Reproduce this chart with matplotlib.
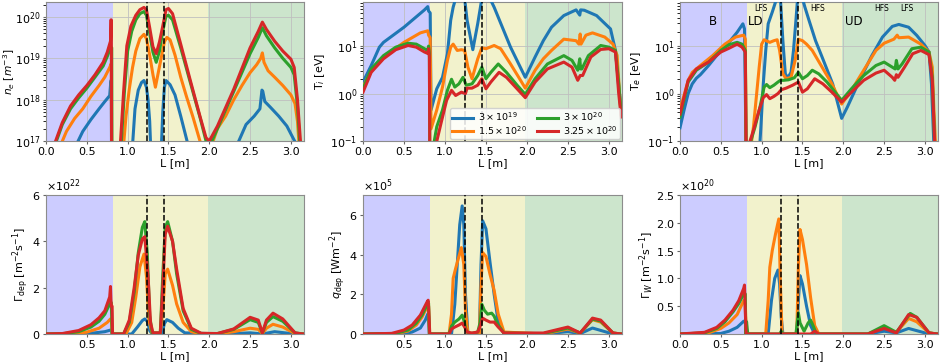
import numpy as np
import matplotlib
matplotlib.use("Agg")
import matplotlib.pyplot as plt

nan = np.nan
colors = ['#1f77b4', '#ff7f0e', '#2ca02c', '#d62728']
labels = [r'$3\times10^{19}$', r'$1.5\times10^{20}$', r'$3\times10^{20}$', r'$3.25\times10^{20}$']
regions = [(0.0, 0.82, 'b'), (0.82, 1.98, 'y'), (1.98, 3.16, 'g')]
xpoints_dashed = [1.24, 1.45]

# ---------------- n_e [m^-3] ----------------
ne_x_blue = [0.37, 0.45, 0.55, 0.65, 0.72, 0.78, 0.795, 0.80, 0.805, nan, 1.06, 1.09, 1.13, 1.17, 1.2, 1.23, 1.25, 1.27, 1.285, nan,
             1.41, 1.43, 1.45, 1.47, 1.52, 1.58, 1.65, 1.74, nan, 2.34, 2.45, 2.55, 2.62, 2.645, 2.655, 2.68, 2.75, 2.85, 2.95, 3.07]
ne_blue = [8e16, 1.7e17, 3.3e17, 6e17, 9e17, 1.25e18, 2.9e18, 2.9e18, 1e15, nan, 8e16, 6e17, 1.7e18, 2.6e18, 2.9e18, 2e18, 1e18, 3e17, 5e16, nan,
           5e16, 5e17, 2e18, 2.9e18, 2.3e18, 1.3e18, 4e17, 8e16, nan, 8e16, 2.5e17, 4e17, 6e17, 1.7e18, 1.6e18, 9e17, 6.5e17, 4e17, 2.3e17, 8e16]
ne_x_orange = [0.18, 0.25, 0.35, 0.45, 0.55, 0.65, 0.72, 0.78, 0.80, 0.805, nan, 0.95, 0.98, 1.02, 1.06, 1.1, 1.15, 1.2, 1.23, 1.27, 1.31, 1.34,
               1.37, 1.41, 1.45, 1.48, 1.52, 1.58, 1.65, 1.72, 1.8, 1.9, nan, 2.03, 2.1, 2.2, 2.3, 2.4, 2.5, 2.58, 2.63, 2.65, 2.67, 2.72,
               2.8, 2.9, 3.0, 3.05, 3.08, 3.1]
ne_orange = [8e16, 1.7e17, 3.5e17, 6e17, 1.2e18, 2.2e18, 3.5e18, 6e18, 7.5e18, 1e15, nan, 8e16, 4e17, 1.8e18, 6e18, 1.5e19, 3e19, 3.8e19, 3e19,
             1.2e19, 4e18, 2e18, 4e18, 1e19, 2.5e19, 3.2e19, 2.8e19, 1.2e19, 3.5e18, 1.2e18, 3.8e17, 8e16, nan, 8e16, 2e17, 4e17, 1e18,
             2.2e18, 4.5e18, 7e18, 1e19, 1.35e19, 8e18, 5e18, 3.5e18, 2.2e18, 1.3e18, 8e17, 3e17, 8e16]
ne_x_green = [0.11, 0.2, 0.3, 0.4, 0.5, 0.6, 0.7, 0.75, 0.79, 0.805, 0.81, nan, 0.92, 0.96, 1.0, 1.05, 1.1, 1.15, 1.2, 1.23, 1.27, 1.31,
              1.35, 1.39, 1.43, 1.47, 1.5, 1.55, 1.65, 1.77, 1.89, 1.96, nan, 2.01, 2.1, 2.3, 2.5, 2.6, 2.65, 2.7, 2.8, 2.9, 3.0, 3.04,
              3.08, 3.11]
ne_green = [8e16, 2.5e17, 6e17, 1.1e18, 1.9e18, 3.5e18, 6.5e18, 1.1e19, 1.8e19, 1.8e19, 1e15, nan, 8e16, 1.5e18, 1.5e19, 4.5e19, 8.5e19,
            1.2e20, 1.35e20, 1.1e20, 4e19, 1.4e19, 8e18, 1.5e19, 4.5e19, 1.05e20, 1.1e20, 8.5e19, 1.8e19, 2.5e18, 3.5e17, 1e17, nan,
            8e16, 2e17, 1.6e18, 1.3e19, 3.2e19, 5.5e19, 3.5e19, 1.8e19, 1e19, 6e18, 4e18, 7e17, 8e16]
ne_x_red = [0.1, 0.2, 0.3, 0.4, 0.5, 0.6, 0.7, 0.75, 0.79, 0.795, 0.80, 0.805, nan, 0.91, 0.95, 0.99, 1.04, 1.1, 1.15, 1.2, 1.23, 1.27,
            1.31, 1.35, 1.39, 1.43, 1.47, 1.5, 1.55, 1.65, 1.77, 1.89, 1.96, 2.0, 2.1, 2.3, 2.5, 2.6, 2.65, 2.7, 2.8, 2.9, 3.0, 3.04,
            3.08, 3.12]
ne_red = [8e16, 2.8e17, 7e17, 1.3e18, 2.2e18, 4e18, 8e18, 1.4e19, 2.6e19, 8.5e19, 8.5e19, 1e15, nan, 8e16, 1.5e18, 2e19, 6e19, 1.1e20,
          1.5e20, 1.7e20, 1.5e20, 5.5e19, 1.9e19, 1.3e19, 2.5e19, 6e19, 1.5e20, 1.6e20, 1.2e20, 2.2e19, 2.8e18, 3.7e17, 1.2e17, 1e17,
          2.3e17, 1.8e18, 1.8e19, 4.5e19, 7.5e19, 5e19, 2.6e19, 1.5e19, 9.5e18, 6e18, 1e18, 8e16]

# ---------------- T_i [eV] ----------------
ti_x_blue = [0.0, 0.1, 0.2, 0.25, 0.5, 0.75, 0.79, 0.8, 0.82, 0.83, 0.9, 0.97, 1.03, 1.07, 1.1, 1.13, 1.2, 1.24, 1.27, 1.34, 1.4, 1.45,
             1.55, 1.6, 1.7, 1.8, 1.9, 1.98, 2.1, 2.2, 2.3, 2.45, 2.6, 2.645, 2.655, 2.7, 2.85, 2.95, 3.02, 3.08, 3.12, 3.15]
ti_blue = [1.75, 3.9, 9.5, 12, 25, 58, 68, 55, 50, 0.45, 1.26, 2.2, 6.9, 35, 66, 100, 100, 100, 35, 8.4, 30, 100, 100, 66, 25, 9.5, 4.2,
           2.2, 5.9, 13, 25, 44, 58, 45, 58, 57, 44, 30, 23, 8.1, 1.4, 0.45]
ti_x_orange = [0.0, 0.1, 0.25, 0.5, 0.7, 0.79, 0.8, 0.82, 0.83, 0.9, 0.97, 1.03, 1.07, 1.1, 1.15, 1.2, 1.24, 1.28, 1.33, 1.4, 1.45, 1.5,
               1.6, 1.68, 1.8, 1.9, 1.98, 2.1, 2.2, 2.3, 2.45, 2.6, 2.635, 2.65, 2.66, 2.72, 2.8, 2.95, 3.05, 3.1, 3.13, 3.15]
ti_orange = [1.37, 3.1, 5.9, 12, 19, 21, 17, 15, 0.18, 0.45, 1.37, 5, 9.5, 11, 8.1, 8.4, 8.1, 3.6, 2.05, 5.4, 9.2, 8.8, 10.3, 8.8, 4.2,
             2.2, 1.3, 3.1, 5.4, 8.1, 14, 13, 11, 18, 11, 17, 19, 15.5, 11, 6.4, 1.0, 0.35]
ti_x_green = [0.0, 0.1, 0.25, 0.4, 0.55, 0.65, 0.75, 0.79, 0.8, 0.81, 0.815, nan, 0.86, 0.9, 0.97, 1.03, 1.08, 1.12, 1.17, 1.22, 1.26,
              1.33, 1.4, 1.45, 1.5, 1.56, 1.65, 1.75, 1.88, 1.98, 2.1, 2.25, 2.45, 2.55, 2.62, 2.645, 2.655, 2.67, 2.75, 2.9, 3.0, 3.08,
              3.12, 3.15]
ti_green = [1.26, 3.3, 6.3, 9.5, 11.5, 11, 8.8, 8.1, 10, 7, 0.05, nan, 0.08, 0.2, 0.45, 1.17, 2.0, 1.37, 1.6, 2.2, 1.5, 1.6, 2.4, 3.6,
            2.05, 2.8, 4.2, 2.8, 1.5, 0.96, 2.05, 4.2, 6.3, 5.0, 3.1, 5.4, 3.3, 3.3, 6.3, 10.3, 9.5, 8.1, 1.6, 0.37]
ti_x_red = [0.0, 0.1, 0.25, 0.4, 0.55, 0.65, 0.75, 0.79, 0.8, 0.81, 0.815, nan, 0.88, 0.95, 1.02, 1.08, 1.13, 1.2, 1.25, 1.27, 1.33,
            1.4, 1.45, 1.5, 1.56, 1.66, 1.75, 1.88, 1.98, 2.1, 2.25, 2.45, 2.55, 2.62, 2.65, 2.68, 2.78, 2.9, 3.0, 3.08, 3.12, 3.15]
ti_red = [1.07, 2.8, 5.4, 8.4, 10.3, 9.5, 7.5, 7.0, 8.8, 5.9, 0.05, nan, 0.07, 0.23, 0.72, 1.17, 0.91, 1.07, 1.0, 1.3, 1.3, 1.5, 2.05,
          1.26, 1.75, 2.8, 2.2, 1.26, 0.82, 1.75, 3.3, 4.6, 3.6, 1.9, 2.4, 2.4, 5.9, 8.5, 8.8, 7.5, 1.0, 0.32]

# ---------------- T_e [eV] ----------------
te_x_blue = [0.0, 0.05, 0.1, 0.15, 0.2, 0.25, 0.35, 0.5, 0.6, 0.7, 0.77, 0.79, 0.81, nan, 0.97, 0.99, 1.02, 1.05, 1.08, 1.13, 1.17,
             1.2, 1.23, 1.26, 1.29, 1.32, 1.36, 1.39, 1.42, 1.44, 1.5, 1.53, 1.58, 1.66, 1.74, 1.87, 1.98, 2.05, 2.2, 2.35, 2.48, 2.6,
             2.68, 2.8, 2.9, 3.0, 3.05, 3.08, 3.11]
te_blue = [0.19, 0.45, 1.0, 1.6, 2.1, 2.5, 3.9, 8.1, 12, 19.6, 29.5, 23, 0.05, nan, 0.05, 0.19, 1.6, 8, 29.5, 52, 85, 100, 100, 13, 2.6,
           2.15, 2.8, 8.1, 35, 100, 100, 66, 35, 13, 5.9, 1.6, 0.3, 0.52, 1.9, 6.3, 15.5, 26, 28.6, 25, 16.8, 10.3, 7.5, 1.6, 0.08]
te_x_orange = [0.0, 0.1, 0.15, 0.25, 0.4, 0.55, 0.68, 0.78, 0.8, 0.81, nan, 0.87, 0.9, 0.97, 1.0, 1.03, 1.1, 1.15, 1.19, 1.22, 1.26,
               1.3, 1.36, 1.41, 1.45, 1.5, 1.55, 1.62, 1.74, 1.86, 1.98, 2.1, 2.25, 2.4, 2.5, 2.62, 2.66, 2.68, 2.8, 2.95, 3.05, 3.09,
               3.11, 3.13]
te_orange = [0.45, 1.9, 2.8, 3.9, 6.3, 11, 15.5, 17, 14, 0.05, nan, 0.08, 0.2, 3.6, 11, 13.6, 12, 13, 13.6, 8.1, 2.6, 2.05, 2.2, 5,
             14, 13, 11, 8.1, 3.6, 1.6, 0.6, 1.17, 3.1, 8.1, 11.5, 14, 17, 15, 15.5, 11, 7.5, 3.6, 0.45, 0.08]
te_x_green = [0.0, 0.1, 0.2, 0.35, 0.5, 0.6, 0.7, 0.76, 0.8, 0.81, nan, 0.85, 0.92, 0.98, 1.03, 1.06, 1.1, 1.15, 1.2, 1.23, 1.27,
              1.33, 1.4, 1.45, 1.5, 1.56, 1.62, 1.7, 1.8, 1.9, 1.98, 2.1, 2.25, 2.4, 2.5, 2.6, 2.635, 2.65, 2.67, 2.72, 2.84, 2.95,
              3.05, 3.09, 3.12]
te_green = [0.32, 1.75, 3.1, 4.6, 8.1, 10.7, 12, 11, 8.1, 0.05, nan, 0.08, 0.2, 0.52, 1.37, 1.55, 1.33, 1.5, 1.75, 1.9, 1.9, 1.95, 2.15,
            2.8, 2.05, 2.4, 3.1, 2.6, 1.75, 1.07, 0.72, 1.26, 2.4, 3.9, 4.6, 3.6, 3.3, 5.0, 3.3, 4.2, 8.8, 9.5, 7.5, 2.2, 0.08]
te_x_red = [0.0, 0.1, 0.2, 0.35, 0.5, 0.6, 0.7, 0.76, 0.8, 0.81, nan, 0.84, 0.9, 0.97, 1.02, 1.06, 1.1, 1.15, 1.2, 1.24, 1.3, 1.38,
            1.45, 1.5, 1.56, 1.65, 1.75, 1.86, 1.98, 2.1, 2.25, 2.4, 2.5, 2.6, 2.63, 2.65, 2.67, 2.75, 2.85, 2.95, 3.05, 3.09, 3.12]
te_red = [0.37, 1.9, 3.3, 4.6, 7.5, 9.0, 11, 9.5, 7.5, 0.05, nan, 0.08, 0.17, 0.45, 0.82, 0.95, 0.78, 0.87, 1.0, 1.2, 1.3, 1.5, 1.75,
          1.07, 1.26, 2.05, 1.6, 1.07, 0.66, 1.07, 1.9, 2.7, 3.1, 2.2, 1.9, 2.5, 2.2, 3.6, 6.9, 8.1, 6.6, 1.9, 0.08]

# ---------------- Gamma_dep [x1e22 m^-2 s^-1] ----------------
gd_x_blue = [0.0, 0.4, 0.6, 0.72, 0.79, 0.8, 0.81, 1.05, 1.12, 1.18, 1.21, 1.24, 1.27, 1.3, 1.42, 1.45, 1.48, 1.55, 1.62, 1.7, 2.2,
             2.5, 2.65, 2.8, 3.05, 3.15]
gd_blue = [0, 0.01, 0.05, 0.1, 0.17, 0.17, 0, 0, 0.3, 0.58, 0.65, 0.55, 0.15, 0, 0, 0.45, 0.62, 0.5, 0.25, 0.05, 0, 0.05, 0, 0.1, 0, 0]
gd_x_orange = [0.0, 0.3, 0.5, 0.65, 0.75, 0.79, 0.80, 0.81, 0.98, 1.05, 1.1, 1.15, 1.2, 1.23, 1.26, 1.3, 1.4, 1.43, 1.46, 1.49, 1.55,
               1.6, 1.68, 1.78, 1.9, 2.1, 2.3, 2.5, 2.6, 2.65, 2.7, 2.78, 2.9, 3.05, 3.15]
gd_orange = [0, 0.01, 0.08, 0.25, 0.5, 0.65, 0.65, 0, 0, 0.5, 1.6, 2.9, 3.45, 2.5, 0.6, 0.02, 0.02, 1.0, 2.6, 2.8, 2.1, 1.3, 0.5, 0.1,
             0, 0, 0.1, 0.25, 0.2, 0.02, 0.25, 0.42, 0.3, 0.02, 0]
gd_x_green = [0.0, 0.2, 0.4, 0.55, 0.65, 0.72, 0.78, 0.80, 0.81, 0.95, 1.02, 1.08, 1.13, 1.18, 1.21, 1.24, 1.27, 1.3, 1.4, 1.43, 1.46,
              1.49, 1.55, 1.6, 1.68, 1.78, 1.9, 2.1, 2.3, 2.5, 2.6, 2.65, 2.7, 2.78, 2.9, 3.05, 3.15]
gd_green = [0, 0.01, 0.1, 0.3, 0.55, 0.85, 1.3, 1.35, 0, 0, 0.5, 1.8, 3.5, 4.6, 4.85, 3.5, 0.8, 0.05, 0.05, 2.5, 4.6, 4.85, 4.0, 2.6,
            1.0, 0.2, 0.02, 0.02, 0.2, 0.62, 0.5, 0.05, 0.5, 0.75, 0.55, 0.05, 0]
gd_x_red = [0.0, 0.2, 0.4, 0.55, 0.65, 0.72, 0.78, 0.79, 0.795, 0.80, 0.81, 0.815, 0.95, 1.02, 1.08, 1.13, 1.18, 1.21, 1.25, 1.28,
            1.31, 1.4, 1.43, 1.46, 1.49, 1.55, 1.6, 1.68, 1.78, 1.9, 2.1, 2.3, 2.5, 2.6, 2.65, 2.7, 2.78, 2.9, 3.05, 3.15]
gd_red = [0, 0.02, 0.15, 0.4, 0.7, 1.0, 1.6, 2.05, 1.5, 1.2, 1.2, 0, 0, 0.6, 2.0, 3.4, 4.1, 4.2, 2.5, 0.5, 0.05, 0.05, 2.0, 4.3, 4.65,
          4.0, 2.8, 1.1, 0.25, 0.03, 0.02, 0.22, 0.72, 0.6, 0.05, 0.6, 0.9, 0.65, 0.05, 0]

# ---------------- q_dep [x1e5 W m^-2] ----------------
qd_x_blue = [0.0, 0.5, 0.6, 0.7, 0.76, 0.79, 0.8, 0.81, 1.08, 1.12, 1.15, 1.18, 1.21, 1.23, 1.25, 1.28, 1.42, 1.44, 1.46, 1.5, 1.55,
             1.6, 1.65, 1.72, 2.2, 2.5, 2.65, 2.8, 3.05, 3.15]
qd_blue = [0, 0.02, 0.1, 0.3, 0.7, 1.0, 0.9, 0, 0, 1.5, 3.5, 5.5, 6.45, 5.5, 2.0, 0, 0, 3.5, 5.7, 5.3, 3.6, 2.0, 0.6, 0.02, 0, 0.12,
           0.02, 0.3, 0, 0]
qd_x_orange = [0.0, 0.4, 0.55, 0.65, 0.72, 0.78, 0.8, 0.81, 1.05, 1.08, 1.1, 1.13, 1.17, 1.2, 1.23, 1.25, 1.28, 1.42, 1.44, 1.46,
               1.5, 1.55, 1.6, 1.65, 1.72, 2.2, 2.5, 2.65, 2.8, 2.9, 3.05, 3.15]
qd_orange = [0, 0.02, 0.15, 0.45, 0.85, 1.35, 1.4, 0, 0, 1.0, 2.8, 3.3, 3.9, 4.35, 3.5, 1.2, 0, 0, 2.5, 4.1, 3.9, 3.0, 2.2, 1.0, 0.1,
             0, 0.25, 0.05, 0.72, 0.6, 0.05, 0]
qd_x_green = [0.0, 0.4, 0.55, 0.65, 0.72, 0.78, 0.8, 0.81, 1.05, 1.08, 1.12, 1.17, 1.21, 1.23, 1.26, 1.3, 1.35, 1.4, 1.43, 1.45,
              1.48, 1.52, 1.57, 1.6, 1.64, 1.72, 2.2, 2.5, 2.65, 2.8, 2.9, 3.05, 3.15]
qd_green = [0, 0.03, 0.2, 0.55, 0.95, 1.45, 1.55, 0, 0, 0.4, 0.6, 0.75, 0.95, 0.7, 0.15, 0.02, 0.05, 0.1, 0.6, 1.5, 1.2, 1.0, 1.05,
            0.9, 0.5, 0.05, 0.02, 0.3, 0.05, 0.75, 0.65, 0.05, 0]
qd_x_red = [0.0, 0.35, 0.5, 0.6, 0.7, 0.78, 0.795, 0.80, 0.81, 0.815, 1.05, 1.08, 1.12, 1.17, 1.21, 1.24, 1.27, 1.33, 1.4, 1.43,
            1.46, 1.5, 1.55, 1.6, 1.65, 1.72, 2.2, 2.5, 2.65, 2.8, 2.9, 3.05, 3.15]
qd_red = [0, 0.03, 0.2, 0.45, 0.95, 1.6, 1.7, 1.4, 0.45, 0, 0, 0.25, 0.35, 0.45, 0.55, 0.35, 0.1, 0.05, 0.1, 0.4, 0.8, 0.7, 0.6, 0.6,
          0.35, 0.05, 0.05, 0.35, 0.05, 0.8, 0.7, 0.05, 0]

# ---------------- Gamma_W [x1e20 m^-2 s^-1] ----------------
gw_x_blue = [0.0, 0.5, 0.6, 0.7, 0.78, 0.8, 0.81, 1.08, 1.12, 1.16, 1.2, 1.22, 1.24, 1.26, 1.43, 1.45, 1.47, 1.5, 1.55, 1.6, 1.65,
             2.3, 2.5, 2.65, 2.8, 3.05, 3.15]
gw_blue = [0, 0.01, 0.05, 0.12, 0.23, 0.22, 0, 0, 0.6, 1.0, 1.15, 0.9, 0.3, 0, 0, 0.6, 1.05, 0.9, 0.5, 0.15, 0, 0, 0.05, 0.02, 0.1,
           0, 0]
gw_x_orange = [0.0, 0.35, 0.5, 0.6, 0.7, 0.78, 0.8, 0.81, 1.05, 1.08, 1.1, 1.13, 1.17, 1.21, 1.23, 1.25, 1.43, 1.45, 1.47, 1.5,
               1.55, 1.6, 1.65, 1.7, 2.3, 2.5, 2.65, 2.8, 2.9, 3.05, 3.15]
gw_orange = [0, 0.02, 0.1, 0.2, 0.35, 0.6, 0.55, 0, 0, 0.6, 1.2, 1.5, 1.8, 2.07, 0.9, 0, 0, 1.2, 1.88, 1.7, 1.25, 0.65, 0.15, 0, 0,
             0.12, 0.03, 0.28, 0.22, 0.02, 0]
gw_x_green = [0.0, 0.3, 0.45, 0.55, 0.65, 0.72, 0.78, 0.8, 0.805, 0.81, 0.815, 0.83, 1.22, 1.24, 1.26, 1.42, 1.45, 1.47, 1.52, 1.57,
              1.6, 1.63, 1.67, 2.3, 2.5, 2.65, 2.82, 2.9, 3.05, 3.15]
gw_green = [0, 0.02, 0.1, 0.22, 0.4, 0.55, 0.72, 0.72, 0, 0, 0.22, 0, 0, 0.05, 0, 0, 0.38, 0.2, 0.05, 0.2, 0.25, 0.15, 0, 0, 0.15,
            0.03, 0.37, 0.3, 0.02, 0]
gw_x_red = [0.0, 0.3, 0.45, 0.55, 0.65, 0.72, 0.78, 0.79, 0.8, 0.81, 1.6, 1.65, 1.7, 2.3, 2.5, 2.65, 2.8, 2.9, 3.05, 3.15]
gw_red = [0, 0.03, 0.12, 0.25, 0.43, 0.6, 0.82, 0.88, 0.4, 0, 0, 0.05, 0, 0, 0.1, 0.02, 0.35, 0.3, 0.02, 0]

FS = 8
plt.rcParams['font.family'] = ['DejaVu Sans']
plt.rcParams['font.size'] = FS
plt.rcParams['axes.edgecolor'] = '0.55'

fig = plt.figure(figsize=(9.41, 3.64), dpi=100)
W, H = 941.0, 364.0
cols = [(46, 304), (363, 622), (680, 938)]
rows = [(2, 141), (195, 334)]
# right edge (pixels) of each rotated y label: [row][col]
ylabel_px = [[17, 327, 643], [31, 348, 656]]

def make_ax(r, c):
    x0, x1 = cols[c]
    y0, y1 = rows[r]
    ax = fig.add_axes([x0 / W, (H - y1) / H, (x1 - x0) / W, (y1 - y0) / H])
    return ax

def decorate(ax, r, c):
    for a, b, col in regions:
        ax.axvspan(a, b, color=col, alpha=0.2, lw=0, zorder=0)
    for xv in xpoints_dashed:
        ax.axvline(xv, color='k', ls='--', lw=1.1, zorder=5)
    ax.set_xlim(0, 3.16)
    ax.set_xlabel('L [m]', labelpad=1)
    ax.tick_params(labelsize=FS, pad=1.5, length=2.5, color='0.4')
    x0, x1 = cols[c]
    ax.yaxis.set_label_coords((ylabel_px[r][c] - x0) / (x1 - x0), 0.5)

top = [
    ([ne_x_blue, ne_x_orange, ne_x_green, ne_x_red], [ne_blue, ne_orange, ne_green, ne_red], r'$n_e$ [$m^{-3}$]', (1e17, 2.3e20)),
    ([ti_x_blue, ti_x_orange, ti_x_green, ti_x_red], [ti_blue, ti_orange, ti_green, ti_red], r'T$_i$ [eV]', (0.1, 85)),
    ([te_x_blue, te_x_orange, te_x_green, te_x_red], [te_blue, te_orange, te_green, te_red], r'T$_e$ [eV]', (0.1, 85)),
]
bottom = [
    ([gd_x_blue, gd_x_orange, gd_x_green, gd_x_red], [gd_blue, gd_orange, gd_green, gd_red],
     r'$\Gamma_{\rm dep}$ [m$^{-2}$s$^{-1}$]', 1e22, (0, 6e22), [0, 2e22, 4e22, 6e22], [0.5, 1.0, 1.5, 2.0, 2.5, 3.0]),
    ([qd_x_blue, qd_x_orange, qd_x_green, qd_x_red], [qd_blue, qd_orange, qd_green, qd_red],
     r'$q_{\rm dep}$ [Wm$^{-2}$]', 1e5, (0, 7e5), [0, 2e5, 4e5, 6e5], [0.5, 1.0, 1.5, 2.0, 2.5, 3.0]),
    ([gw_x_blue, gw_x_orange, gw_x_green, gw_x_red], [gw_blue, gw_orange, gw_green, gw_red],
     r'$\Gamma_W$ [m$^{-2}$s$^{-1}$]', 1e20, (0, 2.5e20), [0.5e20, 1e20, 1.5e20, 2e20, 2.5e20],
     [0.0, 0.5, 1.0, 1.5, 2.0, 2.5, 3.0]),
]

for c, (xs, ys, ylab, ylim) in enumerate(top):
    ax = make_ax(0, c)
    decorate(ax, 0, c)
    ax.set_yscale('log')
    for x, y, col, lab in zip(xs, ys, colors, labels):
        ax.plot(x, y, color=col, lw=2.2, label=lab, zorder=3)
    ax.set_ylim(*ylim)
    ax.set_xticks([0.0, 0.5, 1.0, 1.5, 2.0, 2.5, 3.0])
    ax.grid(True, color='0.75', lw=0.6, zorder=1)
    ax.set_ylabel(ylab, fontsize=FS - 0.3 if c == 0 else FS)
    if c == 1:
        ax.legend(loc='lower right', ncol=2, fontsize=6.8, handlelength=2.2, columnspacing=1.0,
                  borderpad=0.25, labelspacing=0.1, borderaxespad=0.2, framealpha=0.85, handletextpad=0.6)
    if c == 2:
        for txt, xx, yy, fs in [('B', 0.40, 0.86, 8.5), ('LD', 0.93, 0.86, 8.5), ('UD', 2.13, 0.86, 8.5),
                                ('LFS', 0.99, 0.95, 5.5), ('HFS', 1.68, 0.95, 5.5), ('HFS', 2.47, 0.95, 5.5),
                                ('LFS', 2.78, 0.95, 5.5)]:
            ax.text(xx, yy, txt, transform=ax.get_xaxis_transform(), ha='center', va='center', fontsize=fs, zorder=6)

for c, (xs, ys, ylab, scale, ylim, yt, xt) in enumerate(bottom):
    ax = make_ax(1, c)
    decorate(ax, 1, c)
    for x, y, col in zip(xs, ys, colors):
        ax.plot(x, np.array(y) * scale, color=col, lw=2.2, zorder=3)
    ax.set_ylim(*ylim)
    ax.set_yticks(yt)
    ax.set_xticks(xt)
    ax.ticklabel_format(axis='y', style='sci', scilimits=(0, 0), useMathText=True)
    ax.yaxis.get_offset_text().set_fontsize(FS)
    ax.set_ylabel(ylab)

fig.savefig('out.png', dpi=100)
